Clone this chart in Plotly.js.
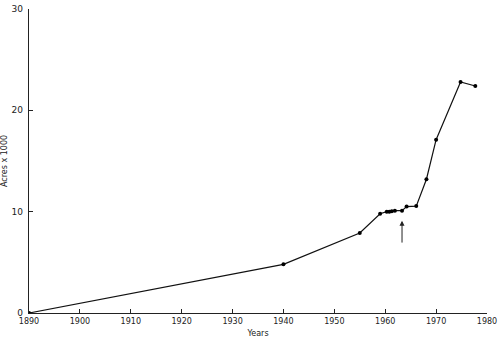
<!DOCTYPE html>
<html>
<head>
<meta charset="utf-8">
<script src="https://cdn.plot.ly/plotly-3.0.1.min.js"></script>
<style>html,body{margin:0;padding:0;background:#fff;}#chart{width:500px;height:339px;}</style>
</head>
<body>
<div id="chart"></div>
<script>
const years = [1890, 1940, 1955, 1959, 1960.3, 1960.8, 1961.3, 1961.9, 1963.3, 1964.2, 1966.1, 1968.1, 1970.0, 1974.8, 1977.7];
const acres = [0, 4.8, 7.9, 9.8, 10.0, 10.0, 10.05, 10.1, 10.1, 10.5, 10.55, 13.2, 17.1, 22.8, 22.4];
const xTicks = [1890, 1900, 1910, 1920, 1930, 1940, 1950, 1960, 1970, 1980];
const yTicks = [0, 10, 20, 30];
const arrowYear = 1963.3;
const arrowFrom = 6.8;
const arrowTo = 9.1;

const font = "DejaVu Sans, sans-serif";
const trace = {
  x: years, y: acres, type: 'scatter', mode: 'lines+markers',
  line: {color: '#111', width: 1.2},
  marker: {color: '#000', size: 4},
  hoverinfo: 'none'
};
const layout = {
  width: 500, height: 339,
  margin: {l: 29, r: 13, t: 9, b: 26},
  paper_bgcolor: '#fff', plot_bgcolor: '#fff',
  showlegend: false,
  font: {family: font, color: '#222', size: 9},
  xaxis: {
    range: [1890, 1980], tickvals: xTicks, ticktext: xTicks.map(String),
    ticks: 'inside', ticklen: 4, tickcolor: '#222', tickwidth: 1,
    showline: true, linecolor: '#222', linewidth: 1.3,
    showgrid: false, zeroline: false,
    tickfont: {size: 8, family: font, color: '#222'},
    title: {text: 'Years', font: {size: 8, family: font, color: '#222'}, standoff: 5}
  },
  yaxis: {
    range: [0, 30], tickvals: yTicks, ticktext: yTicks.map(String),
    ticks: 'inside', ticklen: 4, tickcolor: '#222', tickwidth: 1,
    showline: true, linecolor: '#222', linewidth: 1.3,
    showgrid: false, zeroline: false, ticklabelstandoff: 3,
    tickfont: {size: 9, family: font, color: '#222'},
    title: {text: 'Acres x 1000', font: {size: 8, family: font, color: '#222'}, standoff: 2}
  },
  annotations: [{
    x: arrowYear, y: arrowTo, ax: arrowYear, ay: arrowFrom,
    xref: 'x', yref: 'y', axref: 'x', ayref: 'y',
    showarrow: true, arrowhead: 2, arrowsize: 1, arrowwidth: 1, arrowcolor: '#222', text: ''
  }]
};
Plotly.newPlot('chart', [trace], layout, {staticPlot: true, displayModeBar: false});
</script>
</body>
</html>
